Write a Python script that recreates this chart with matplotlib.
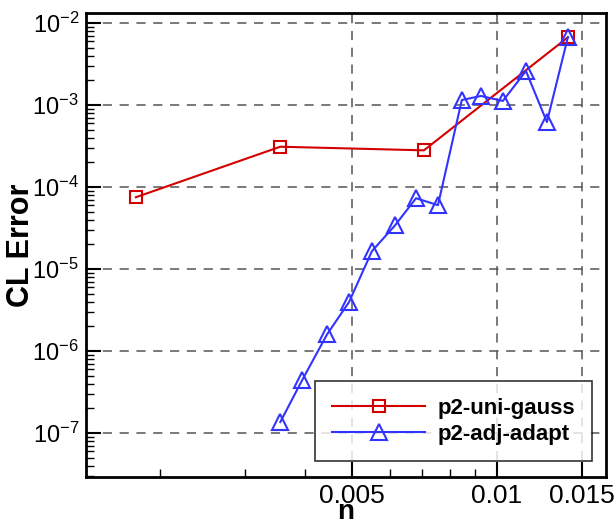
import numpy as np
import matplotlib.pyplot as plt
from matplotlib.ticker import FixedLocator, FixedFormatter, LogLocator, NullFormatter

plt.rcParams['font.family'] = ['Liberation Sans', 'DejaVu Sans']
plt.rcParams['mathtext.default'] = 'regular'

# p2-uni-gauss
uni_n = [0.00178, 0.00355, 0.00705, 0.01403]
uni_err = [7.5e-5, 3.1e-4, 2.8e-4, 6.7e-3]

# p2-adj-adapt
adj_n = [0.00355, 0.00394, 0.00444, 0.00493, 0.0055, 0.00614, 0.00679,
         0.00754, 0.00845, 0.00926, 0.01028, 0.01148, 0.01269, 0.01403]
adj_err = [1.36e-7, 4.4e-7, 1.6e-6, 3.95e-6, 1.65e-5, 3.4e-5, 7.3e-5,
           6.0e-5, 1.15e-3, 1.29e-3, 1.12e-3, 2.6e-3, 6.2e-4, 6.75e-3]

xticks = [0.005, 0.01, 0.015]
xticklabels = ['0.005', '0.01', '0.015']

fig = plt.figure(figsize=(6.16, 5.25), dpi=100)
ax = fig.add_axes([0.1396, 0.0914, 0.8442, 0.8838])

ax.plot(uni_n, uni_err, color='#d40000', lw=1.5, marker='s', ms=9,
        mfc='none', mec='#d40000', mew=1.5, label='p2-uni-gauss', zorder=3)
ax.plot(adj_n, adj_err, color='#3333ff', lw=1.5, marker='^', ms=11,
        mfc='none', mec='#3333ff', mew=1.5, label='p2-adj-adapt', zorder=3)

ax.set_xscale('log')
ax.set_yscale('log')
ax.set_xlim(0.001403, 0.01683)
ax.set_ylim(10**-7.537, 10**-1.878)

ax.xaxis.set_major_locator(FixedLocator(xticks))
ax.xaxis.set_major_formatter(FixedFormatter(xticklabels))
ax.xaxis.set_minor_locator(LogLocator(base=10, subs=np.arange(1, 10)))
ax.xaxis.set_minor_formatter(NullFormatter())
ax.yaxis.set_major_locator(LogLocator(base=10, numticks=20))
ax.yaxis.set_minor_locator(LogLocator(base=10, subs=np.arange(2, 10), numticks=20))
ax.yaxis.set_minor_formatter(NullFormatter())

ax.tick_params(which='major', direction='in', length=11, width=1.5,
               top=False, right=False)
ax.tick_params(which='minor', direction='in', length=6, width=1,
               top=False, right=False)
ax.tick_params(axis='x', labelsize=19, pad=5)
ax.tick_params(axis='y', labelsize=17, pad=5)

ax.grid(True, which='major', color='#555555', ls=(0, (6, 5)), lw=1.1)
for s in ax.spines.values():
    s.set_linewidth(2)

ax.set_xlabel('n', fontsize=20, fontweight='bold')
ax.xaxis.set_label_coords(0.5, -0.047)
ax.set_ylabel('CL Error', fontsize=22, fontweight='bold')
ax.yaxis.set_label_coords(-0.097, 0.5)

leg = ax.legend(loc='lower right', bbox_to_anchor=(0.973, 0.034),
                borderaxespad=0, prop={'weight': 'bold', 'size': 16},
                frameon=True, fancybox=False, edgecolor='black',
                handlelength=4.2, handletextpad=0.55, borderpad=0.75,
                labelspacing=0.2)
leg.get_frame().set_linewidth(1.2)

fig.savefig('out.png', dpi=100)
